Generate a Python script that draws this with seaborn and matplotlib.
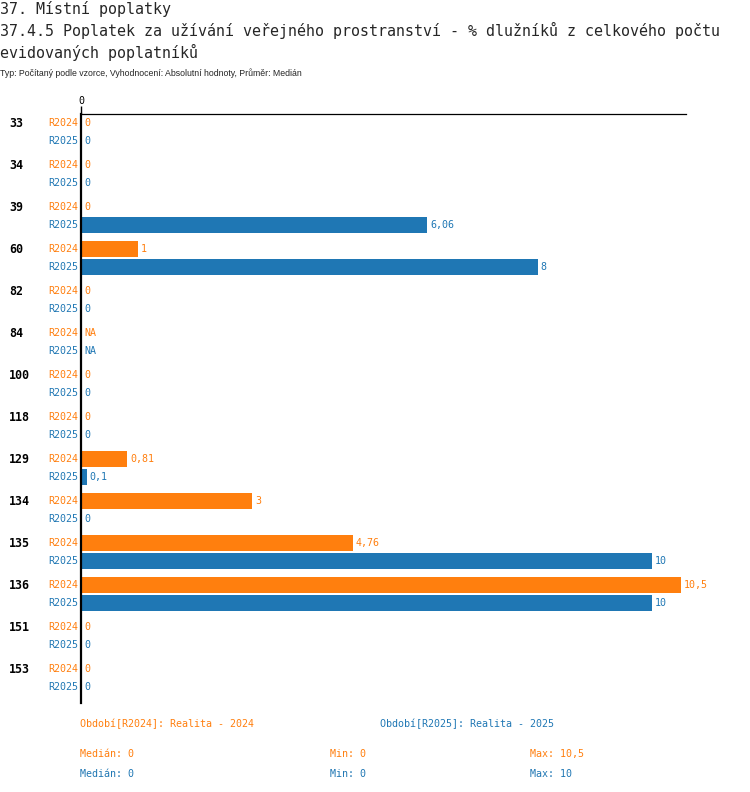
import numpy as np
import pandas as pd
import seaborn as sns
import matplotlib
matplotlib.use('Agg')
import matplotlib.pyplot as plt

# data
groups = ['33', '34', '39', '60', '82', '84', '100', '118', '129', '134', '135', '136', '151', '153']
periods = ['R2024', 'R2025']
r2024 = [0, 0, 0, 1, 0, np.nan, 0, 0, 0.81, 3, 4.76, 10.5, 0, 0]
r2025 = [0, 0, 6.06, 8, 0, np.nan, 0, 0, 0.1, 0, 10, 10, 0, 0]
colors = {'R2024': '#ff7f0e', 'R2025': '#1f77b4'}

title1 = '37. Místní poplatky'
title2 = '37.4.5 Poplatek za užívání veřejného prostranství - % dlužníků z celkového počtu'
title3 = 'evidovaných poplatníků'
subtitle = 'Typ: Počítaný podle vzorce, Vyhodnocení: Absolutní hodnoty, Průměr: Medián'
legend_txt = {'R2024': 'Období[R2024]: Realita - 2024', 'R2025': 'Období[R2025]: Realita - 2025'}
stats = {'R2024': ('Medián: 0', 'Min: 0', 'Max: 10,5'),
         'R2025': ('Medián: 0', 'Min: 0', 'Max: 10')}

df = pd.DataFrame({
    'group': groups * 2,
    'period': ['R2024'] * len(groups) + ['R2025'] * len(groups),
    'value': r2024 + r2025,
})

sns.set_style('white')
plt.rcParams['font.family'] = ['DejaVu Sans Mono']
MONO = 'DejaVu Sans Mono'

W, H = 750, 792
fig = plt.figure(figsize=(W / 100, H / 100), dpi=100)


def fx(x):
    return x / W


def fy(y):
    return 1 - y / H


# axes placed in pixel terms: zero line at x=81, top rule at y=114, bottom at y=703
ax = fig.add_axes([fx(81), fy(703), fx(686) - fx(81), fy(114) - fy(703)])
bar_w = 0.857
sns.barplot(data=df, y='group', x='value', hue='period', order=groups, hue_order=periods,
            palette=colors, orient='h', errorbar=None, width=bar_w, gap=0.1,
            legend=False, ax=ax, saturation=1, linewidth=0)

xmax = (686 - 81) / 57.1
ax.set_xlim(0, xmax)
ax.set_ylim(13 + 25 / 42, -18 / 42)

ax.set_xlabel('')
ax.set_ylabel('')
ax.set_yticks([])
ax.xaxis.tick_top()
ax.set_xticks([0])
ax.set_xticklabels(['0'], fontsize=7.2, family=MONO)
ax.tick_params(axis='x', length=6, width=1, pad=0, colors='black')
for s in ['bottom', 'right']:
    ax.spines[s].set_visible(False)
ax.spines['left'].set_linewidth(1.6)
ax.spines['left'].set_color('black')
ax.spines['top'].set_linewidth(0.9)
ax.spines['top'].set_color('black')
ax.set_facecolor('white')
ax.grid(False)

# row labels and value labels
vals = {'R2024': r2024, 'R2025': r2025}
for i, g in enumerate(groups):
    for j, p in enumerate(periods):
        yc = i + (j - 0.5) * bar_w / 2
        v = vals[p][i]
        txt = 'NA' if np.isnan(v) else f'{v:g}'.replace('.', ',')
        xv = 0 if np.isnan(v) else v
        ax.annotate(txt, (xv, yc), xytext=(3, 0), textcoords='offset pixels',
                    ha='left', va='center', color=colors[p], fontsize=7.2,
                    family=MONO, annotation_clip=False)
        ax.annotate(p, (0, yc), xytext=(-3, 0), textcoords='offset pixels',
                    ha='right', va='center', color=colors[p], fontsize=7.2,
                    family=MONO, annotation_clip=False)
    ax.annotate(g, (0, i - bar_w / 4), xytext=(-72, 0), textcoords='offset pixels',
                ha='left', va='center', color='black', fontsize=8.4,
                fontweight='bold', family=MONO, annotation_clip=False)

# titles
fig.text(fx(0), fy(9), title1, ha='left', va='center', fontsize=10.8, family=MONO)
fig.text(fx(0), fy(30), title2, ha='left', va='center', fontsize=10.8, family=MONO)
fig.text(fx(0), fy(52), title3, ha='left', va='center', fontsize=10.8, family=MONO)
fig.text(fx(0), fy(73), subtitle, ha='left', va='center', fontsize=6.3,
         family=['Liberation Sans Narrow', 'Liberation Sans'])

# legend and summary lines
fig.text(fx(80), fy(724), legend_txt['R2024'], ha='left', va='center', fontsize=7.2,
         family=MONO, color=colors['R2024'])
fig.text(fx(380), fy(724), legend_txt['R2025'], ha='left', va='center', fontsize=7.2,
         family=MONO, color=colors['R2025'])
for p, yy in zip(periods, [754, 774]):
    for t, xx in zip(stats[p], [80, 330, 530]):
        fig.text(fx(xx), fy(yy), t, ha='left', va='center', fontsize=7.2,
                 family=MONO, color=colors[p])

fig.savefig('out.png', dpi=100, facecolor='white')
